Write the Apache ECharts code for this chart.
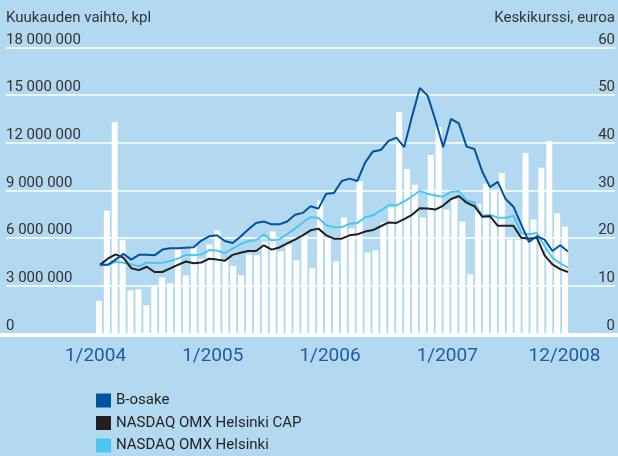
<!DOCTYPE html>
<html>
<head>
<meta charset="utf-8">
<script src="https://cdn.jsdelivr.net/npm/echarts@6/dist/echarts.min.js"></script>
<style>
html,body{margin:0;padding:0;background:#b3d9f1;}
#chart{width:618px;height:456px;}
</style>
</head>
<body>
<div id="chart"></div>
<script>
// kuukauden vaihto, kpl (1/2004 - 12/2008)
var volume = [2050000, 7730000, 13300000, 5900000, 2720000, 2780000, 1780000, 2970000, 3530000, 3160000, 5290000, 3660000,
    5500000, 4700000, 5600000, 6480000, 4600000, 4250000, 3660000, 4980000, 4920000, 5770000, 6420000, 5170000,
    5600000, 4600000, 6200000, 4100000, 8370000, 5980000, 4540000, 7300000, 6610000, 9600000, 5100000, 5230000,
    6980000, 7940000, 13930000, 10360000, 9360000, 7300000, 11230000, 13000000, 7800000, 8450000, 7040000, 3720000,
    8170000, 9420000, 9050000, 10100000, 5920000, 5900000, 11360000, 7170000, 10430000, 12100000, 7550000, 6730000];

// keskikurssi, euroa
var bOsake = [14.4, 14.4, 15.5, 16.7, 15.5, 16.5, 16.5, 16.4, 17.6, 17.9, 17.9, 18.0, 18.1, 19.5, 20.4, 20.6,
    19.4, 19.0, 20.3, 21.8, 23.2, 23.5, 22.9, 22.9, 23.5, 24.9, 25.3, 26.7, 26.2, 29.3, 29.5, 32.0,
    32.5, 32.0, 35.9, 38.2, 38.5, 40.4, 41.1, 39.1, 45.5, 51.5, 49.9, 44.8, 39.1, 45.0, 44.1, 39.2,
    38.7, 34.0, 30.7, 31.8, 28.2, 26.6, 22.9, 19.2, 20.4, 19.7, 17.3, 18.5, 17.2];
var omxCap = [14.4, 15.7, 16.6, 15.9, 13.7, 13.3, 14.0, 12.9, 12.9, 13.65, 14.4, 15.1, 14.75, 14.9, 15.7, 15.5,
    15.25, 16.5, 16.95, 17.3, 17.3, 18.5, 17.6, 18.05, 18.9, 19.7, 20.6, 21.65, 22.0, 20.6, 19.9, 19.9,
    20.6, 20.8, 21.4, 21.7, 22.5, 23.3, 23.2, 24.0, 24.9, 26.3, 26.2, 26.0, 26.85, 28.2, 28.85, 27.45,
    26.7, 24.5, 24.6, 22.6, 22.6, 22.6, 20.1, 19.9, 20.1, 16.4, 14.5, 13.5, 12.9];
var omxHelsinki = [14.4, 14.4, 15.05, 14.85, 14.5, 14.1, 14.85, 14.8, 14.85, 15.2, 15.7, 16.5, 16.4, 16.6, 17.5, 17.4,
    16.85, 17.8, 18.75, 19.4, 19.55, 20.8, 19.5, 19.8, 20.85, 22.0, 23.3, 24.45, 24.25, 22.7, 22.3, 22.3,
    23.0, 23.2, 24.4, 24.8, 25.8, 26.9, 26.9, 27.7, 28.8, 29.9, 29.3, 28.95, 28.7, 29.7, 29.9, 27.9,
    27.5, 24.7, 24.9, 24.3, 24.3, 24.7, 21.1, 20.8, 21.1, 18.3, 15.9, 14.7, 13.8];

var xLabels = ['1/2004', '1/2005', '1/2006', '1/2007', '12/2008'];
var names = ['B-osake', 'NASDAQ OMX Helsinki CAP', 'NASDAQ OMX Helsinki'];
var colors = ['#00539f', '#231f20', '#4cc6f1'];

var months = [];
for (var y = 2004; y <= 2008; y++) {
    for (var m = 1; m <= 12; m++) months.push(m + '/' + y);
}
var points = [];
for (var i = 0; i < bOsake.length; i++) points.push(i);

var font = 'Roboto, sans-serif';
var textCol = '#333333';
var plotTop = 47.5, plotH = 286;

var chart = echarts.init(document.getElementById('chart'));
var option = {
    backgroundColor: '#b3d9f1',
    animation: false,
    textStyle: { fontFamily: font },
    legend: {
        data: names,
        orient: 'vertical',
        left: 96,
        top: 393,
        height: 62,
        padding: 0,
        icon: 'rect',
        itemWidth: 15,
        itemHeight: 14,
        itemGap: 7.5,
        itemStyle: { borderWidth: 0 },
        textStyle: { fontSize: 15, color: '#231f20', fontFamily: font }
    },
    grid: [
        { left: 6, right: 2, top: plotTop, height: plotH },          // taustaviivat ja asteikot
        { left: 0, right: 0, top: plotTop, height: plotH + 1 },      // pohjaviiva
        { left: 95, width: 474, top: plotTop, height: plotH },       // pylväät
        { left: 100, width: 468, top: plotTop, height: plotH },      // kurssiviivat
        { left: 95.5, width: 469, top: plotTop, height: plotH }      // x-akselin tekstit
    ],
    xAxis: [
        { gridIndex: 0, type: 'category', data: [''], show: false },
        { gridIndex: 1, type: 'category', data: [''],
          axisLine: { show: true, lineStyle: { color: '#ffffff', width: 4 } },
          axisTick: { show: false }, axisLabel: { show: false } },
        { gridIndex: 2, type: 'category', data: months, show: false },
        { gridIndex: 3, type: 'category', data: points, boundaryGap: false, show: false },
        { gridIndex: 4, type: 'category', data: xLabels, boundaryGap: false,
          axisLine: { show: false }, axisTick: { show: false },
          axisLabel: { interval: 0, color: '#1d5ca3', fontSize: 19, margin: 13, fontFamily: font } }
    ],
    yAxis: [
        { gridIndex: 0, type: 'value', position: 'left', min: 0, max: 18000000, interval: 3000000,
          name: 'Kuukauden vaihto, kpl', nameLocation: 'end', nameGap: 22,
          nameTextStyle: { align: 'left', verticalAlign: 'bottom', fontSize: 15, color: textCol, fontFamily: font },
          axisLine: { show: false }, axisTick: { show: false },
          splitLine: { show: true, lineStyle: { color: '#ffffff', width: 1.5 } },
          axisLabel: { inside: true, margin: 0, verticalAlign: 'bottom', fontSize: 15, color: textCol, fontFamily: font,
              formatter: function (v) { return String(v).replace(/\B(?=(\d{3})+(?!\d))/g, ' '); } } },
        { gridIndex: 0, type: 'value', position: 'right', min: 0, max: 60, interval: 10,
          name: 'Keskikurssi, euroa', nameLocation: 'end', nameGap: 22,
          nameTextStyle: { align: 'right', verticalAlign: 'bottom', fontSize: 15, color: textCol, fontFamily: font },
          axisLine: { show: false }, axisTick: { show: false }, splitLine: { show: false },
          axisLabel: { inside: true, margin: 0, verticalAlign: 'bottom', fontSize: 15, color: textCol, fontFamily: font } },
        { gridIndex: 1, type: 'value', min: 0, max: 1, show: false },
        { gridIndex: 2, type: 'value', min: 0, max: 18000000, show: false },
        { gridIndex: 3, type: 'value', min: 0, max: 60, show: false },
        { gridIndex: 4, type: 'value', min: 0, max: 1, show: false }
    ],
    series: [
        { name: 'vaihto', type: 'bar', xAxisIndex: 2, yAxisIndex: 3, barWidth: 6,
          itemStyle: { color: '#ffffff' }, data: volume },
        { name: names[2], type: 'line', xAxisIndex: 3, yAxisIndex: 4, showSymbol: false, symbol: 'none',
          lineStyle: { color: colors[2], width: 2 }, itemStyle: { color: colors[2] }, data: omxHelsinki },
        { name: names[1], type: 'line', xAxisIndex: 3, yAxisIndex: 4, showSymbol: false, symbol: 'none',
          lineStyle: { color: colors[1], width: 2 }, itemStyle: { color: colors[1] }, data: omxCap },
        { name: names[0], type: 'line', xAxisIndex: 3, yAxisIndex: 4, showSymbol: false, symbol: 'none',
          lineStyle: { color: colors[0], width: 2 }, itemStyle: { color: colors[0] }, data: bOsake }
    ]
};
chart.setOption(option);
window.addEventListener('resize', function () {
    chart.resize();
});
</script>
</body>
</html>
